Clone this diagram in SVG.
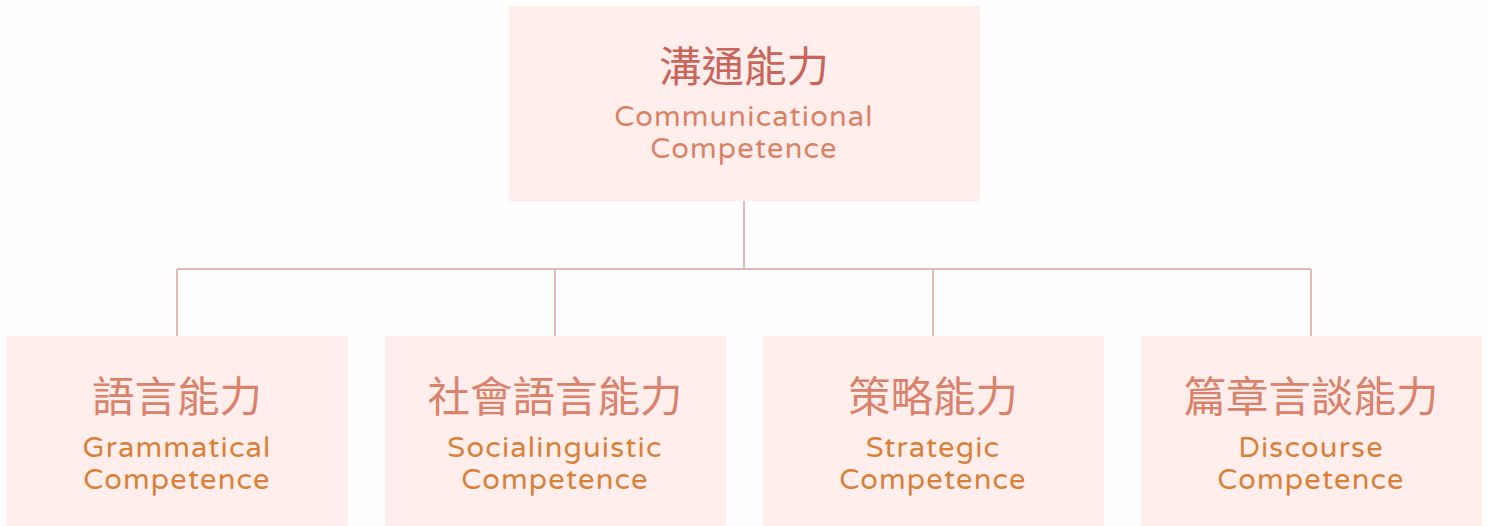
<svg xmlns="http://www.w3.org/2000/svg" width="1488" height="526" viewBox="0 0 1488 526">
  <style>
    .box { fill: #FFEEEC; }
    .zh { font-family: "Noto Sans CJK TC", "Noto Sans CJK SC", sans-serif; font-size: 42.5px; font-weight: 400; text-anchor: middle; }
    .en { font-family: "Varela Round", "Noto Sans", "Open Sans", sans-serif; font-size: 29px; letter-spacing: 1.2px; text-anchor: middle; }
    .top-zh { fill: #C9655B; }
    .top-en { fill: #DB8266; }
    .sub-zh { fill: #D9836C; }
    .sub-en { fill: #D98039; }
    .link { stroke: #E0B9B9; stroke-width: 2; fill: none; }
  </style>
  <rect width="1488" height="526" fill="#FFFDFD"/>

  <g id="connectors">
    <path class="link" d="M744 200 V269 M177 269 H1311 M177 269 V336 M555 269 V336 M933 269 V336 M1311 269 V336"/>
  </g>

  <g id="communicational">
    <rect class="box" x="509" y="6" width="471" height="195"/>
    <text class="zh top-zh" x="744" y="82">溝通能力</text>
    <text class="en top-en" x="744" y="126">Communicational</text>
    <text class="en top-en" x="744" y="158">Competence</text>
  </g>

  <g id="grammatical">
    <rect class="box" x="7" y="336" width="341" height="190"/>
    <text class="zh sub-zh" x="177" y="412">語言能力</text>
    <text class="en sub-en" x="177" y="457">Grammatical</text>
    <text class="en sub-en" x="177" y="489">Competence</text>
  </g>

  <g id="sociolinguistic">
    <rect class="box" x="385" y="336" width="341" height="190"/>
    <text class="zh sub-zh" x="555" y="412">社會語言能力</text>
    <text class="en sub-en" x="555" y="457">Socialinguistic</text>
    <text class="en sub-en" x="555" y="489">Competence</text>
  </g>

  <g id="strategic">
    <rect class="box" x="763" y="336" width="341" height="190"/>
    <text class="zh sub-zh" x="933" y="412">策略能力</text>
    <text class="en sub-en" x="933" y="457">Strategic</text>
    <text class="en sub-en" x="933" y="489">Competence</text>
  </g>

  <g id="discourse">
    <rect class="box" x="1141" y="336" width="341" height="190"/>
    <text class="zh sub-zh" x="1311" y="412">篇章言談能力</text>
    <text class="en sub-en" x="1311" y="457">Discourse</text>
    <text class="en sub-en" x="1311" y="489">Competence</text>
  </g>
</svg>
